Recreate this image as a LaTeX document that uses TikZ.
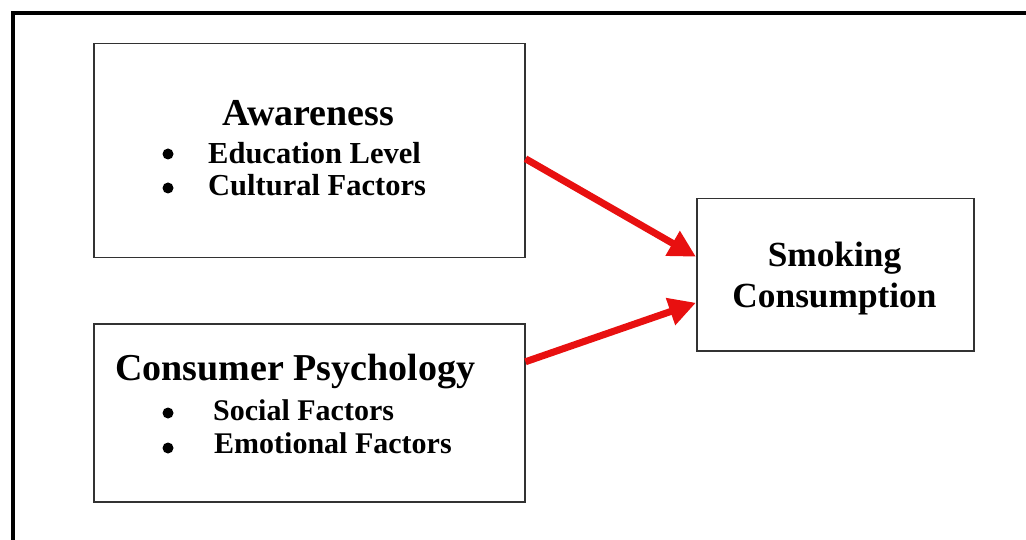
\documentclass[tikz,border=0pt]{standalone}
\usepackage{fontspec}
\setmainfont{Liberation Serif}
\usetikzlibrary{arrows.meta}
\definecolor{boxline}{RGB}{50,50,50}
\definecolor{arrowred}{RGB}{232,16,16}
\tikzset{
  box/.style={draw=boxline, line width=1.5pt, minimum width=#1, inner sep=0pt, anchor=north west},
  title/.style={font=\fontsize{38}{41}\selectfont\bfseries, anchor=base, inner sep=0pt},
  item/.style={font=\fontsize{30}{34}\selectfont\bfseries, anchor=base west, inner sep=0pt},
  bul/.style={circle, fill=black, inner sep=0pt, minimum size=11pt},
  link/.style={draw=arrowred, line width=7pt, -{Triangle[length=27pt,width=27pt]}}
}
\begin{document}
\begin{tikzpicture}[x=1pt,y=-1pt]
\useasboundingbox (0,0) rectangle (1026,540);
% outer frame (open at right and bottom)
\draw[line width=4pt, black] (12.5,540) -- (12.5,13) -- (1026,13);
% boxes
\node[box=431pt, minimum height=214pt] (aw) at (93,43) {};
\node[box=431pt, minimum height=178pt] (cp) at (93,323) {};
\node[box=277pt, minimum height=152pt] (sc) at (696,198) {};
% Awareness text
\node[title] (awt) at (308.5,126) {Awareness};
\node[bul] (awb1) at (168,154) {};
\node[item, font=\fontsize{30.5}{34}\selectfont\bfseries] (awi1) at (208,164) {Education Level};
\node[bul] (awb2) at (168,188) {};
\node[item, font=\fontsize{30.5}{34}\selectfont\bfseries] (awi2) at (208,196) {Cultural Factors};
% Consumer Psychology text
\node[title, anchor=base west] (cpt) at (115,380) {Consumer Psychology};
\node[bul] (cpb1) at (168,413) {};
\node[item] (cpi1) at (213,420) {Social Factors};
\node[bul] (cpb2) at (168,448) {};
\node[item] (cpi2) at (214,453) {Emotional Factors};
% Smoking Consumption text
\node[title, font=\fontsize{35.3}{38}\selectfont\bfseries] (sct1) at (834.5,267) {Smoking};
\node[title, font=\fontsize{35.3}{38}\selectfont\bfseries] (sct2) at (834.5,307) {Consumption};
% arrows
\draw[link] ([yshift=-8pt]aw.east) -- ([yshift=18pt]sc.west);
\draw[link] ([yshift=51pt]cp.east) -- ([yshift=-28pt]sc.west);
\end{tikzpicture}
\end{document}
